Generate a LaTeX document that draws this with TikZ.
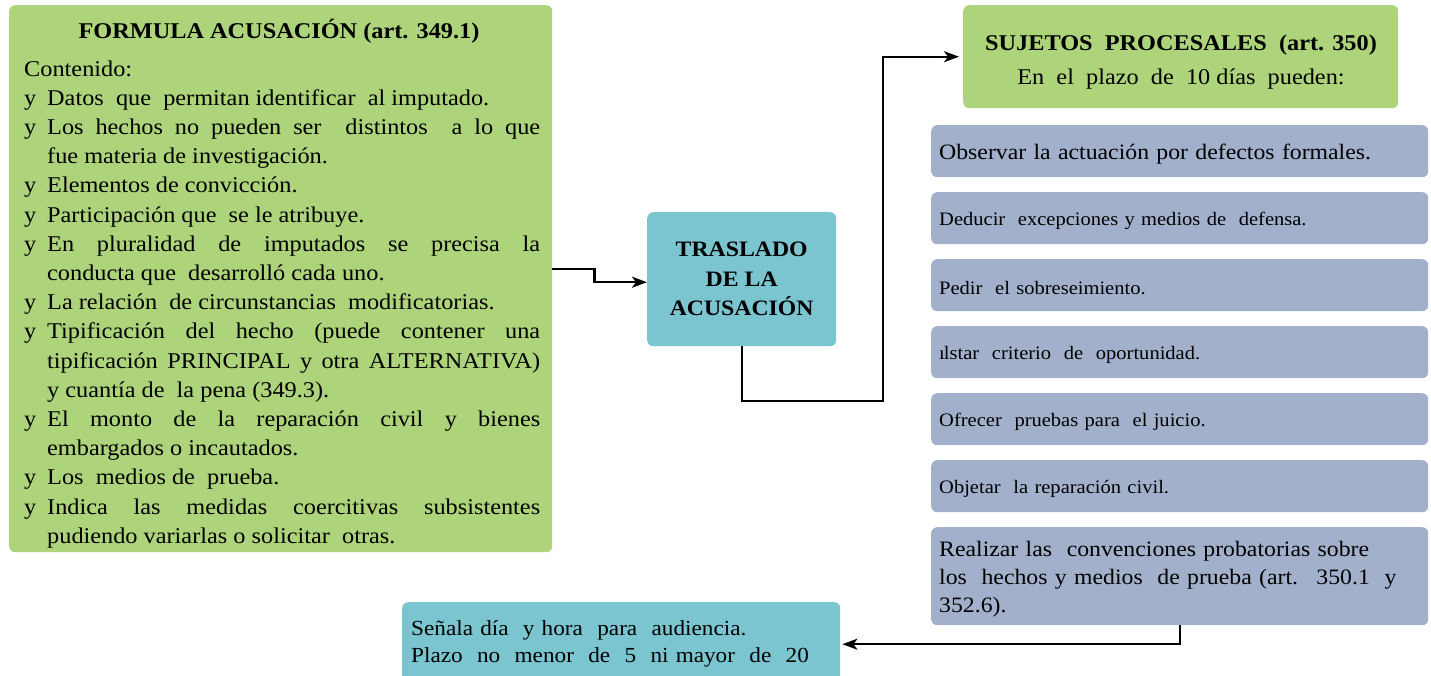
\documentclass[tikz,border=0pt]{standalone}
\usepackage{fontspec}
\setmainfont{Liberation Serif}[FakeStretch=1.08]
\usetikzlibrary{arrows.meta}
\definecolor{cgreen}{RGB}{173,212,122}
\definecolor{cteal}{RGB}{122,197,207}
\definecolor{cblue}{RGB}{162,176,203}
\newcommand\Bu[1]{\makebox[23pt][l]{y}#1}
\newcommand\Ju[1]{\makebox[493pt][s]{#1}}
\newcommand\Hg[1]{\hspace*{23pt}#1}
\begin{document}
\begin{tikzpicture}[x=1pt,y=-1pt,
  box/.style={rounded corners=6pt, draw=none, anchor=north west, inner sep=0pt},
  txt/.style={inner sep=0pt, anchor=base west, font=\fontsize{22.5}{29}\selectfont},
  ctxt/.style={inner sep=0pt, anchor=base, font=\fontsize{22.5}{29}\selectfont},
  item/.style={box, fill=cblue, minimum width=497pt, minimum height=52pt,
    text width=481pt, align=left, inner xsep=8pt, font=\fontsize{19}{24}\selectfont,
    execute at begin node={\rule{0pt}{1em}}},
  conn/.style={line width=2.4pt, -{Stealth[length=15pt,width=11pt,inset=4pt]}}]
\useasboundingbox (0,0) rectangle (1431,675);

% left box
\node[box, fill=cgreen, minimum width=543pt, minimum height=547pt] (formula) at (9,5) {};
\node[ctxt, font=\fontsize{22.5}{29}\selectfont\bfseries] (ftitle) at (279,38) {FORMULA ACUSACIÓN (art. 349.1)};
\foreach \t [count=\i from 0] in {
  {Contenido:},
  {\Bu{Datos~ que~ permitan identificar~ al imputado.}},
  {\Bu{\Ju{Los hechos no pueden ser~ distintos~ a lo que}}},
  {\Hg{fue materia de investigación.}},
  {\Bu{Elementos de convicción.}},
  {\Bu{Participación que~ se le atribuye.}},
  {\Bu{\Ju{En pluralidad de imputados se precisa la}}},
  {\Hg{conducta que~ desarrolló cada uno.}},
  {\Bu{La relación~ de circunstancias~ modificatorias.}},
  {\Bu{\Ju{Tipificación del hecho (puede contener una}}},
  {\Hg{\Ju{tipificación PRINCIPAL y otra ALTERNATIVA)}}},
  {\Hg{y cuantía de~ la pena (349.3).}},
  {\Bu{\Ju{El monto de la reparación civil y bienes}}},
  {\Hg{embargados o incautados.}},
  {\Bu{Los~ medios de~ prueba.}},
  {\Bu{\Ju{Indica las medidas coercitivas subsistentes}}},
  {\Hg{pudiendo variarlas o solicitar~ otras.}}
}{
  \node[txt] (f\i) at (24,76+29.2*\i) {\t};
}

% traslado
\node[box, fill=cteal, minimum width=189pt, minimum height=134pt, align=center,
  font=\fontsize{22}{29.5}\selectfont\bfseries] (traslado) at (647,212) {TRASLADO\\DE LA\\ACUSACIÓN};

% sujetos
\node[box, fill=cgreen, minimum width=435pt, minimum height=103pt] (sujetos) at (963,5) {};
\node[ctxt, font=\fontsize{22.5}{29}\selectfont\bfseries] (st1) at (1181,50) {SUJETOS~ PROCESALES~ (art. 350)};
\node[ctxt] (st2) at (1181,84) {En~ el~ plazo~ de~ 10 días~ pueden:};

% items
\node[item, font=\fontsize{22}{28}\selectfont] (i1) at (931,125) {Observar la actuación por defectos formales.};
\node[item] (i2) at (931,192) {Deducir~ excepciones y medios de~ defensa.};
\node[item] (i3) at (931,259) {Pedir~ el sobreseimiento.};
\node[item] (i4) at (931,326) {ı\kern-0.05em lstar~ criterio~ de~ oportunidad.};
\node[item] (i5) at (931,393) {Ofrecer~ pruebas para~ el juicio.};
\node[item] (i6) at (931,460) {Objetar~ la reparación civil.};
\node[item, minimum height=98pt, font=\fontsize{22}{28}\selectfont] (i7) at (931,527)
  {Realizar las~ convenciones probatorias sobre\\los~ hechos y medios~ de prueba (art.~ 350.1~ y\\352.6).};

% audiencia
\node[box, fill=cteal, minimum width=436pt, minimum height=84pt, text width=420pt,
  align=left, inner xsep=9pt, font=\fontsize{21.5}{27}\selectfont] (aud) at (402,602)
  {Señala día~ y hora~ para~ audiencia.\\Plazo~ no~ menor~ de~ 5~ ni mayor~ de~ 20};

% connectors
\coordinate (c1) at (883,401);
\draw[conn] ([yshift=9.5pt]formula.east) -- ++(42,0) |- ([yshift=-3pt]traslado.west);
\draw[conn, shorten >=4pt] (traslado.south) |- (c1) |- (sujetos.west);
\draw[conn, shorten >=2pt] (i7.south) |- (aud.east);
\end{tikzpicture}
\end{document}
